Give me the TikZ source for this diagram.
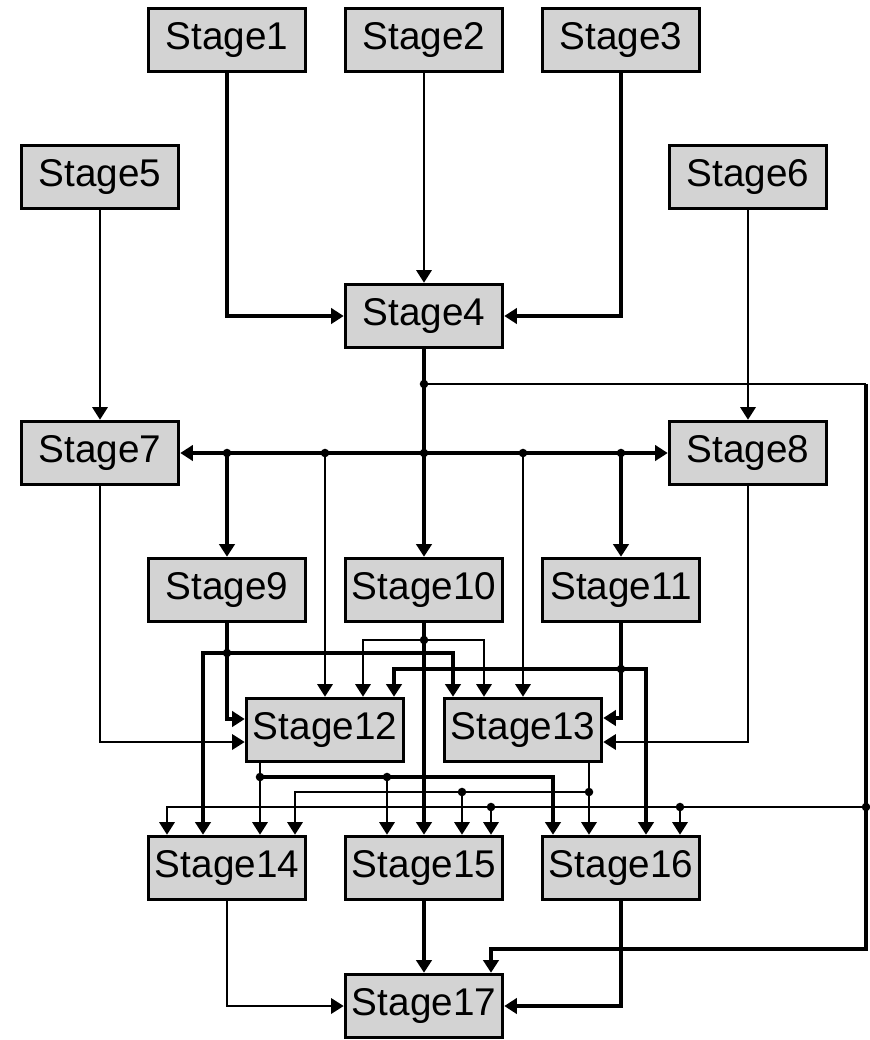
\documentclass[tikz,border=0pt]{standalone}
\usepackage{fontspec}
\setmainfont{Liberation Sans}
\usetikzlibrary{arrows.meta,calc}

\definecolor{boxgray}{HTML}{D3D3D3}

\begin{document}
\begin{tikzpicture}[x=0.75pt, y=-0.75pt,
    stage/.style={draw, line width=2.4pt, fill=boxgray, minimum width=118pt,
        minimum height=47.5pt, inner sep=0pt, font=\fontsize{29}{34}\selectfont},
    light/.style={line width=1.8pt},
    heavy/.style={line width=2.8pt},
    >={Triangle[length=9.5pt,width=11.5pt]}]
    \useasboundingbox (0,0) rectangle (869,1040);

    % Define nodes
    \node[stage] (s1) at (227,40) {Stage1};
    \node[stage] (s2) at (424,40) {Stage2};
    \node[stage] (s3) at (621,40) {Stage3};
    \node[stage] (s5) at (100,177) {Stage5};
    \node[stage] (s6) at (748,177) {Stage6};
    \node[stage] (s4) at (424,316) {Stage4};
    \node[stage] (s7) at (100,453) {Stage7};
    \node[stage] (s8) at (748,453) {Stage8};
    \node[stage] (s9) at (227,590) {Stage9};
    \node[stage] (s10) at (424,590) {Stage10};
    \node[stage] (s11) at (621,590) {Stage11};
    \node[stage] (s12) at (325,730) {Stage12};
    \node[stage] (s13) at (523,730) {Stage13};
    \node[stage] (s14) at (227,868) {Stage14};
    \node[stage] (s15) at (424,868) {Stage15};
    \node[stage] (s16) at (621,868) {Stage16};
    \node[stage] (s17) at (424,1006) {Stage17};

    % Junction points
    \coordinate (j4) at (424,384);
    \coordinate (b9) at (s9 |- s7);
    \coordinate (b12) at (s12 |- s7);
    \coordinate (b10) at (s10 |- s7);
    \coordinate (b13) at (s13 |- s7);
    \coordinate (b11) at (s11 |- s7);
    \coordinate (r1) at (866,384);
    \coordinate (r2) at (866,807);
    \coordinate (r3) at (866,949);
    \coordinate (d15) at (491,807);
    \coordinate (d16) at (680,807);
    \coordinate (j9) at (227,653);
    \coordinate (j10) at (424,640);
    \coordinate (j11) at (621,669);
    \coordinate (j12) at (260,777);
    \coordinate (j12b) at (387,777);
    \coordinate (j13) at (589,792);
    \coordinate (j13b) at (462,792);

    % Draw mappings into Stage4
    \draw[heavy,->] (s1.south) |- (s4.west);
    \draw[light,->] (s2) -- (s4);
    \draw[heavy,->] (s3.south) |- (s4.east);
    \draw[light,->] (s5) -- (s7);
    \draw[light,->] (s6) -- (s8);

    % Stage4 fan out
    \draw[heavy,->] (s4) -- (s10);
    \draw[line width=2.3pt,<->] (s7) -- (s8);
    \draw[heavy,->] (b9) -- (s9);
    \draw[light,->] (b12) -- (s12);
    \draw[light,->] (b13) -- (s13);
    \draw[heavy,->] (b11) -- (s11);
    \draw[light] (j4) -- (r1);
    \draw[heavy,->] (r1) -- (r3) -| ($(s17.north)+(67,0)$);
    \draw[light,->] (r2) -| ($(s14.north)+(-60,0)$);
    \draw[light,->] (d15) -- (d15 |- s15.north);
    \draw[light,->] (d16) -- (d16 |- s16.north);

    % Side stages
    \draw[light,->] (s7.south) |- ($(s12.west)+(0,12)$);
    \draw[light,->] (s8.south) |- ($(s13.east)+(0,12)$);

    % Stage9, Stage10, Stage11
    \draw[heavy,->] (s9.south) |- ($(s12.west)+(0,-11)$);
    \draw[heavy,->] (j9) -| ($(s14.north)+(-24,0)$);
    \draw[heavy,->] (j9) -| ($(s13.north)+(-70,0)$);
    \draw[heavy,->] (s10) -- (s15);
    \draw[light,->] (j10) -| ($(s12.north)+(38,0)$);
    \draw[light,->] (j10) -| ($(s13.north)+(-39,0)$);
    \draw[heavy,->] (s11.south) |- ($(s13.east)+(0,-12)$);
    \draw[heavy,->] (j11) -| ($(s12.north)+(69,0)$);
    \draw[heavy,->] (j11) -| ($(s16.north)+(25,0)$);

    % Stage12 and Stage13
    \draw[light,->] ($(s12.south)+(-65,0)$) -- ($(s14.north)+(33,0)$);
    \draw[heavy,->] (j12) -| ($(s16.north)+(-68,0)$);
    \draw[light,->] (j12b) -- (j12b |- s15.north);
    \draw[light,->] ($(s13.south)+(66,0)$) -- ($(s16.north)+(-32,0)$);
    \draw[light,->] (j13) -| ($(s14.north)+(68,0)$);
    \draw[light,->] (j13b) -- (j13b |- s15.north);

    % Into Stage17
    \draw[light,->] (s14.south) |- (s17.west);
    \draw[heavy,->] (s15) -- (s17);
    \draw[heavy,->] (s16.south) |- (s17.east);

    % Dots
    \foreach \p in {j4,b9,b12,b10,b13,b11,r2,d15,d16,j9,j10,j11,j12,j12b,j13,j13b}
        \fill (\p) circle (3.2pt);
\end{tikzpicture}
\end{document}
